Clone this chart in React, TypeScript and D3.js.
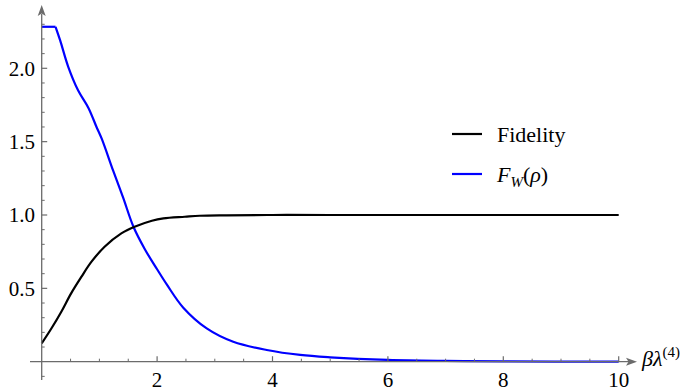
import * as d3 from "d3";

// Fidelity curve
const fidX = [0, 0.17, 0.34, 0.51, 0.69, 0.86, 1.09, 1.38, 1.61, 1.91, 2.11, 2.48, 2.74, 3.2, 4, 5, 10];
const fidY = [0.125, 0.228, 0.341, 0.466, 0.58, 0.68, 0.784, 0.875, 0.92, 0.961, 0.977, 0.988, 0.995, 0.998, 1.0, 1.0, 1.0];

// F_W(rho) curve: plateau, then decay
const fwX = [0, 0.24, 0.32, 0.46, 0.63, 0.81, 0.95, 1.04, 1.24, 1.41, 1.59, 1.79, 2.0, 2.17, 2.45, 2.86, 3.32, 3.9, 4.48, 5.0, 6.0, 7, 8, 10];
const fwY = [2.283, 2.283, 2.19, 2.01, 1.85, 1.73, 1.6, 1.52, 1.3, 1.12, 0.92, 0.765, 0.63, 0.525, 0.37, 0.227, 0.136, 0.08, 0.046, 0.03, 0.012, 0.005, 0.002, 0.0];

const xMajor = [2, 4, 6, 8, 10];
const yMajor = [0.5, 1.0, 1.5, 2.0];
const yLabels = ["0.5", "1.0", "1.5", "2.0"];

const W = 687;
const H = 391;
const AXIS = "#6b6b6b";
const FONT = '"Liberation Serif", "DejaVu Serif", serif';

export default function App() {
  const x = d3.scaleLinear().domain([0, 10]).range([41.7, 618.7]);
  const y = d3.scaleLinear().domain([0, 1]).range([361.7, 215]);

  const line = d3
    .line<[number, number]>()
    .x((d) => x(d[0]))
    .y((d) => y(d[1]))
    .curve(d3.curveCatmullRom.alpha(0.5));
  const straight = d3
    .line<[number, number]>()
    .x((d) => x(d[0]))
    .y((d) => y(d[1]));

  const fid = fidX.map((v, i) => [v, fidY[i]] as [number, number]);
  const fw = fwX.map((v, i) => [v, fwY[i]] as [number, number]);
  // plateau drawn straight, the decay drawn smooth from the corner on
  const fwFlat = fw.slice(0, 2);
  const fwDecay = fw.slice(1);

  const xMinor = d3.range(0.5, 10.01, 0.5).filter((v) => Math.abs(v % 2) > 0.01);
  const yMinor = d3.range(-0.1, 2.31, 0.1).filter((v) => Math.abs(v) > 0.01 && Math.abs((v * 10) % 5) > 0.01);

  const x0 = x(0);
  const y0 = y(0);

  return (
    <div style={{ position: "absolute", left: 0, top: 0 }}>
      <svg width={W} height={H} style={{ display: "block", background: "#fff", fontFamily: FONT }}>
        {/* curves */}
        <path d={straight(fwFlat) ?? ""} fill="none" stroke="#0000ff" strokeWidth={2.2} />
        <path d={line(fwDecay) ?? ""} fill="none" stroke="#0000ff" strokeWidth={2.2} strokeLinejoin="round" />
        <path d={line(fid) ?? ""} fill="none" stroke="#000" strokeWidth={2.2} />

        {/* axes */}
        <line x1={30} x2={629} y1={y0} y2={y0} stroke={AXIS} strokeWidth={1.3} />
        <path d={`M${637},${y0} L${626},${y0 - 4} L${628.5},${y0} L${626},${y0 + 4} Z`} fill={AXIS} />
        <line x1={x0} x2={x0} y1={380} y2={14} stroke={AXIS} strokeWidth={1.3} />
        <path d={`M${x0},${5} L${x0 - 4},${16} L${x0},${13.5} L${x0 + 4},${16} Z`} fill={AXIS} />

        {xMinor.map((v) => (
          <line key={"xm" + v} x1={x(v)} x2={x(v)} y1={y0} y2={y0 - 3} stroke={AXIS} strokeWidth={1} />
        ))}
        {xMajor.map((v) => (
          <g key={"xM" + v}>
            <line x1={x(v)} x2={x(v)} y1={y0} y2={y0 - 5.5} stroke={AXIS} strokeWidth={1.2} />
            <text x={x(v)} y={387} textAnchor="middle" fontSize={21} fill="#000" style={{ fontFamily: FONT }}>
              {v}
            </text>
          </g>
        ))}
        {yMinor.map((v) => (
          <line key={"ym" + v} x1={x0} x2={x0 + 3} y1={y(v)} y2={y(v)} stroke={AXIS} strokeWidth={1} />
        ))}
        {yMajor.map((v, i) => (
          <g key={"yM" + v}>
            <line x1={x0} x2={x0 + 5.5} y1={y(v)} y2={y(v)} stroke={AXIS} strokeWidth={1.2} />
            <text x={35} y={y(v)} dy="0.35em" textAnchor="end" fontSize={21} fill="#000" style={{ fontFamily: FONT }}>
              {yLabels[i]}
            </text>
          </g>
        ))}

        {/* axis label */}
        <text x={642} y={366} fontSize={22} fill="#000" style={{ fontFamily: FONT }}>
          <tspan fontStyle="italic">βλ</tspan>
          <tspan fontSize={15} dy={-9}>(4)</tspan>
        </text>

        {/* legend */}
        <line x1={452} x2={482} y1={134} y2={134} stroke="#000" strokeWidth={2.2} />
        <text x={497} y={142} fontSize={22} fill="#000" style={{ fontFamily: FONT }}>
          Fidelity
        </text>
        <line x1={452} x2={482} y1={174} y2={174} stroke="#0000ff" strokeWidth={2.2} />
        <text x={497} y={182} fontSize={22} fill="#000" style={{ fontFamily: FONT }}>
          <tspan fontStyle="italic">F</tspan>
          <tspan fontStyle="italic" fontSize={15} dy={5}>W</tspan>
          <tspan dy={-5}>(</tspan>
          <tspan fontStyle="italic">ρ</tspan>
          <tspan>)</tspan>
        </text>
      </svg>
    </div>
  );
}
